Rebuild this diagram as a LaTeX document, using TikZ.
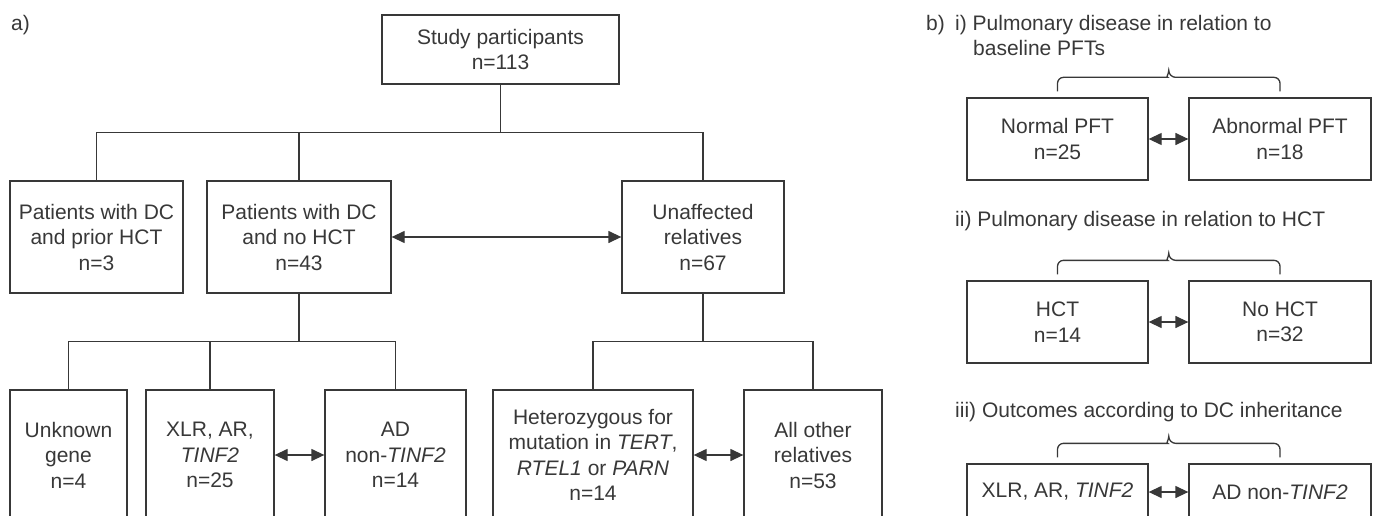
\documentclass[tikz,border=0pt]{standalone}
\usepackage{fontspec}
\setmainfont{Liberation Sans}
\usepackage{tikz}
\usetikzlibrary{arrows.meta,calc}
\definecolor{ink}{HTML}{383838}
\newcommand{\pairbrace}[2]{\draw[line] ([yshift=6pt]#1.north) [rounded corners=6pt] |- ([xshift=-7pt,yshift=20pt]$(#1.north)!.5!(#2.north)$) [sharp corners] to[out=0,in=-90] ++(7pt,7pt) to[out=-90,in=180] ++(7pt,-7pt) [rounded corners=6pt] -| ([yshift=6pt]#2.north);}

\begin{document}
\begin{tikzpicture}
    [x=1pt, y=-1pt,
 font=\fontsize{21}{25.5}\selectfont,
 block/.style ={rectangle, draw=ink, line width=1.3pt, text=ink, align=center, inner sep=0pt},
 tag/.style ={anchor=base west, inner sep=0pt, text=ink},
 line/.style ={draw=ink, line width=1.3pt},
 both/.style ={line, {Triangle[length=13pt,width=12pt]}-{Triangle[length=13pt,width=12pt]}}]
    \useasboundingbox (0,0) rectangle (1378,516);
    \clip (0,0) rectangle (1378,516);
        \node[tag] (lbla) at (11,31) {a)};
        \node[block, minimum width=237pt, minimum height=69pt] (study) at (500.5,49.5) {Study participants\\n=113};
        \node[block, minimum width=173pt, minimum height=112pt] (prior) at (96.5,237) {Patients with DC\\and prior HCT\\n=3};
        \node[block, minimum width=184pt, minimum height=112pt] (nohct) at (299,237) {Patients with DC\\and no HCT\\n=43};
        \node[block, minimum width=162pt, minimum height=112pt] (unaff) at (703,237) {Unaffected\\relatives\\n=67};
        \node[block, minimum width=117pt, minimum height=130pt] (unknown) at (68.5,455) {Unknown\\gene\\n=4};
        \node[block, minimum width=128pt, minimum height=130pt] (xlr) at (210,455) {XLR, AR,\\\textit{TINF2}\\n=25};
        \node[block, minimum width=141pt, minimum height=130pt] (adnon) at (395.5,455) {AD\\non-\textit{TINF2}\\n=14};
        \node[block, minimum width=200pt, minimum height=130pt] (het) at (593,455) {Heterozygous for\\mutation in \textit{TERT},\\\textit{RTEL1} or \textit{PARN}\\n=14};
        \node[block, minimum width=138pt, minimum height=130pt] (other) at (813,455) {All other\\relatives\\n=53};
        \draw[line] (study.south) -- ++(0,48) coordinate (s1);
        \draw[line] (s1) -| (prior.north);
        \draw[line] (s1) -| (nohct.north);
        \draw[line] (s1) -| (unaff.north);
        \draw[line] (nohct.south) -- ++(0,48) coordinate (s2);
        \draw[line] (s2) -| (unknown.north);
        \draw[line] (s2) -| (xlr.north);
        \draw[line] (s2) -| (adnon.north);
        \draw[line] (unaff.south) -- ++(0,48) coordinate (s3);
        \draw[line] (s3) -| (het.north);
        \draw[line] (s3) -| (other.north);
        \draw[both] (nohct.east) -- (unaff.west);
        \draw[both] (xlr.east) -- (adnon.west);
        \draw[both] (het.east) -- (other.west);
        \node[tag] (lblb) at (926,31) {b)};
        \node[tag] (ti) at (955,31) {i) Pulmonary disease in relation to};
        \node[tag] (ti2) at (973,56) {baseline PFTs};
        \node[block, minimum width=181pt, minimum height=82pt] (normal) at (1057.5,139) {Normal PFT\\n=25};
        \node[block, minimum width=182pt, minimum height=82pt] (abnormal) at (1280,139) {Abnormal PFT\\n=18};
        \pairbrace{normal}{abnormal}
        \draw[both] (normal.east) -- (abnormal.west);
        \node[tag] (tii) at (955,226) {ii) Pulmonary disease in relation to HCT};
        \node[block, minimum width=181pt, minimum height=82pt] (hct) at (1057.5,322) {HCT\\n=14};
        \node[block, minimum width=182pt, minimum height=82pt] (nohct2) at (1280,322) {No HCT\\n=32};
        \pairbrace{hct}{nohct2}
        \draw[both] (hct.east) -- (nohct2.west);
        \node[tag] (tiii) at (955,417) {iii) Outcomes according to DC inheritance};
        \node[block, minimum width=181pt, minimum height=56pt] (xlr2) at (1057.5,492) {XLR, AR, \textit{TINF2}};
        \node[block, minimum width=182pt, minimum height=56pt] (adnon2) at (1280,492) {AD non-\textit{TINF2}};
        \pairbrace{xlr2}{adnon2}
        \draw[both] (xlr2.east) -- (adnon2.west);
    \end{tikzpicture}
\end{document}
